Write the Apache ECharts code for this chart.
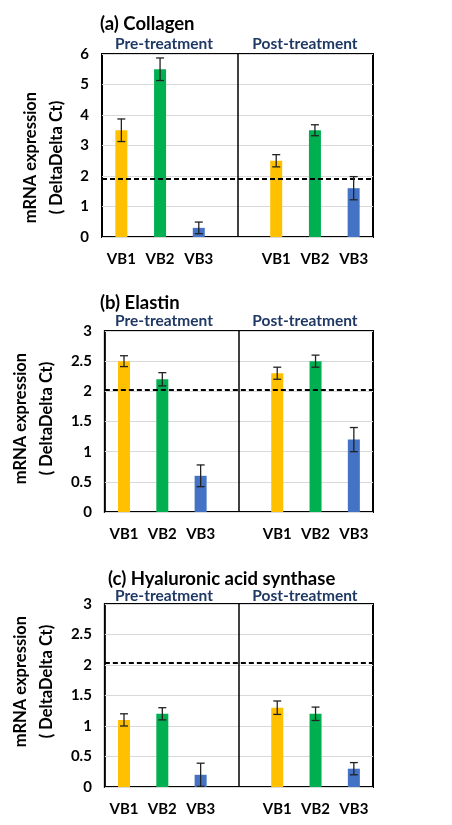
<!DOCTYPE html>
<html>
<head>
<meta charset="utf-8">
<script src="https://cdn.jsdelivr.net/npm/echarts@6/dist/echarts.min.js"></script>
<style>
  html, body { margin: 0; padding: 0; background: #fff; }
  #myChart { width: 452px; height: 825px; }
</style>
</head>
<body>
<div id="myChart"></div>
<script>
// categories: 3 strains pre, an empty slot for the divider, 3 strains post
const categories = ['VB1', 'VB2', 'VB3', '', 'VB1', 'VB2', 'VB3'];
const panelTitles = ['(a) Collagen', '(b) Elastin', '(c) Hyaluronic acid synthase'];
const groupLabels = ['Pre-treatment', 'Post-treatment'];

// (a) Collagen
const collagenPre = [3.5, 5.5, 0.3];
const collagenPost = [2.5, 3.5, 1.6];
const collagenPreErr = [0.37, 0.37, 0.19];
const collagenPostErr = [0.2, 0.18, 0.38];
const collagenBaseline = 1.9;

// (b) Elastin
const elastinPre = [2.5, 2.2, 0.6];
const elastinPost = [2.3, 2.5, 1.2];
const elastinPreErr = [0.09, 0.11, 0.18];
const elastinPostErr = [0.1, 0.1, 0.2];
const elastinBaseline = 2.03;

// (c) Hyaluronic acid synthase
const hasPre = [1.1, 1.2, 0.2];
const hasPost = [1.3, 1.2, 0.3];
const hasPreErr = [0.1, 0.1, 0.19];
const hasPostErr = [0.11, 0.11, 0.1];
const hasBaseline = 2.03;

// y axis ticks
const yTicksA = [0, 1, 2, 3, 4, 5, 6];
const yTicksBC = [0, 0.5, 1, 1.5, 2, 2.5, 3];

const barColors = ['#FFC000', '#00B050', '#4472C4'];
const font = 'Lato, "Open Sans", sans-serif';

const panels = [
  {pre: collagenPre, post: collagenPost, preErr: collagenPreErr, postErr: collagenPostErr, base: collagenBaseline, ticks: yTicksA, top: 54, height: 183, titleTop: 10, titleLeft: 95, groupTop: 44, namePad: [0, 24, 0, 0]},
  {pre: elastinPre, post: elastinPost, preErr: elastinPreErr, postErr: elastinPostErr, base: elastinBaseline, ticks: yTicksBC, top: 331, height: 181, titleTop: 289, titleLeft: 95, groupTop: 321, namePad: [0, 0, 0, 6]},
  {pre: hasPre, post: hasPost, preErr: hasPreErr, postErr: hasPostErr, base: hasBaseline, ticks: yTicksBC, top: 604, height: 183, titleTop: 565, titleLeft: 103, groupTop: 596, namePad: [0, 0, 0, 28]}
];

function barData(p) {
  const out = [];
  p.pre.forEach((v, i) => out.push({value: v, itemStyle: {color: barColors[i]}}));
  out.push('-');
  p.post.forEach((v, i) => out.push({value: v, itemStyle: {color: barColors[i]}}));
  return out;
}

function errData(p) {
  const out = [];
  p.pre.forEach((v, i) => out.push([i, v - p.preErr[i], v + p.preErr[i]]));
  p.post.forEach((v, i) => out.push([i + 4, v - p.postErr[i], v + p.postErr[i]]));
  return out;
}

function renderErr(params, api) {
  const lo = api.coord([api.value(0), api.value(1)]);
  const hi = api.coord([api.value(0), api.value(2)]);
  const w = 4;
  const style = {stroke: '#222', lineWidth: 1.3};
  return {
    type: 'group',
    children: [
      {type: 'line', shape: {x1: hi[0], y1: hi[1], x2: lo[0], y2: lo[1]}, style: style},
      {type: 'line', shape: {x1: hi[0] - w, y1: hi[1], x2: hi[0] + w, y2: hi[1]}, style: style},
      {type: 'line', shape: {x1: lo[0] - w, y1: lo[1], x2: lo[0] + w, y2: lo[1]}, style: style}
    ]
  };
}

const grid = [], xAxis = [], yAxis = [], series = [], title = [], graphic = [];

panels.forEach((p, k) => {
  grid.push({left: 102, right: 79, top: p.top, height: p.height, show: true, borderColor: '#000', borderWidth: 2, backgroundColor: 'transparent'});
  xAxis.push({
    type: 'category', gridIndex: k, data: categories,
    axisLine: {show: false}, axisTick: {show: false},
    axisLabel: {color: '#000', fontFamily: font, fontWeight: 'bold', fontSize: 15, margin: 15}
  });
  yAxis.push({
    type: 'value', gridIndex: k,
    min: p.ticks[0], max: p.ticks[p.ticks.length - 1], interval: p.ticks[1] - p.ticks[0],
    axisLine: {show: false}, axisTick: {show: false},
    splitLine: {lineStyle: {color: '#d9d9d9', width: 1}},
    axisLabel: {color: '#000', fontFamily: font, fontWeight: 'bold', fontSize: 15, margin: 13},
    name: 'mRNA expression\n( DeltaDelta Ct)', nameLocation: 'middle', nameGap: 28,
    nameTextStyle: {color: '#000', fontFamily: font, fontWeight: 'bold', fontSize: 16.5, lineHeight: 26, padding: p.namePad}
  });
  series.push({
    type: 'bar', xAxisIndex: k, yAxisIndex: k, barWidth: 12, data: barData(p),
    z: 2,
    markLine: {
      silent: true, symbol: 'none', label: {show: false}, animation: false,
      data: [
        {yAxis: p.base, lineStyle: {color: '#000', width: 2, type: [5, 3]}},
        {xAxis: 3, lineStyle: {color: '#000', width: 1.5, type: 'solid'}}
      ]
    }
  });
  series.push({
    type: 'custom', xAxisIndex: k, yAxisIndex: k, data: errData(p),
    renderItem: renderErr, z: 5
  });
  title.push({
    text: panelTitles[k], left: p.titleLeft, top: p.titleTop,
    textStyle: {color: '#000', fontFamily: font, fontWeight: 'bold', fontSize: 18.5}
  });
  [164, 305].forEach((cx, j) => {
    graphic.push({
      type: 'text', x: cx, y: p.groupTop,
      style: {text: groupLabels[j], fill: '#1F3864', font: 'bold 15.5px ' + font, align: 'center', verticalAlign: 'middle'}
    });
  });
});

const option = {
  animation: false,
  title: title,
  grid: grid,
  xAxis: xAxis,
  yAxis: yAxis,
  series: series,
  graphic: graphic
};

const myChart = echarts.init(document.getElementById('myChart'));
myChart.setOption(option);
</script>
</body>
</html>
